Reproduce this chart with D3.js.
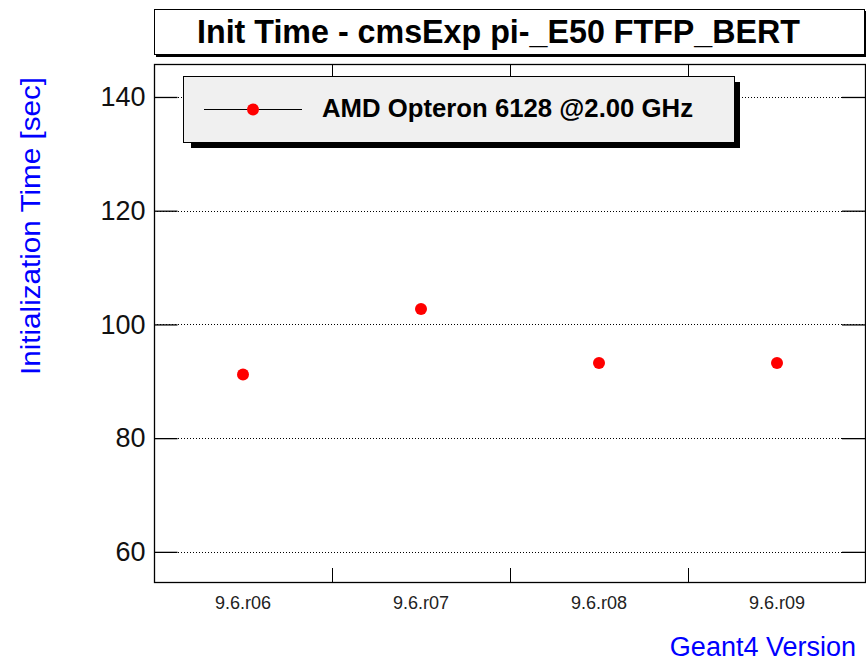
<!DOCTYPE html>
<html>
<head>
<meta charset="utf-8">
<script src="https://cdn.jsdelivr.net/npm/d3@7"></script>
<style>
  html, body { margin: 0; padding: 0; background: #fff; }
  svg { display: block; font-family: "Liberation Sans", Arial, Helvetica, sans-serif; }
</style>
</head>
<body>
<svg id="chart" width="866" height="661"></svg>
<script>
// Geant4 versions on the x axis and measured initialization times (seconds)
const versions = ["9.6.r06", "9.6.r07", "9.6.r08", "9.6.r09"];
const initTimes = [91.2, 102.7, 93.2, 93.2];
const yTicks = [60, 80, 100, 120, 140];
const seriesName = "AMD Opteron 6128 @2.00 GHz";
const chartTitle = "Init Time - cmsExp pi-_E50 FTFP_BERT";
const yTitle = "Initialization Time [sec]";
const xTitle = "Geant4 Version";

const svg = d3.select("#chart");

const frame = { left: 154, right: 865, top: 64, bottom: 582 };

const x = d3.scaleBand()
  .domain(versions)
  .range([frame.left, frame.left + 4 * 178])
  .paddingInner(0).paddingOuter(0);

const y = d3.scaleLinear()
  .domain([54.7, 145.8])
  .range([frame.bottom, frame.top]);

// Title box with drop shadow
svg.append("rect").attr("x", 156).attr("y", 11).attr("width", 712).attr("height", 46).attr("fill", "#000");
svg.append("rect").attr("x", 154.5).attr("y", 9.5).attr("width", 710).attr("height", 45)
  .attr("fill", "#fff").attr("stroke", "#000").attr("stroke-width", 1);
svg.append("text")
  .attr("x", 197).attr("y", 43)
  .attr("font-size", 34).attr("font-weight", "bold")
  .attr("textLength", 603).attr("lengthAdjust", "spacingAndGlyphs")
  .text(chartTitle);

// Dotted horizontal grid lines
const grid = svg.append("g");
grid.selectAll("line").data(yTicks).join("line")
  .attr("x1", frame.left).attr("x2", frame.right)
  .attr("y1", d => Math.round(y(d)) + 0.5).attr("y2", d => Math.round(y(d)) + 0.5)
  .attr("stroke", "#000").attr("stroke-width", 1)
  .attr("stroke-dasharray", "1,2");

// Left axis with long major ticks
const yAxis = svg.append("g")
  .attr("transform", `translate(${frame.left + 0.5},0)`)
  .call(d3.axisLeft(y).tickValues(yTicks).tickSize(-23).tickPadding(9).tickFormat(d3.format("d")));
yAxis.select(".domain").remove();
yAxis.selectAll(".tick line").attr("stroke", "#000").attr("stroke-width", 1.3);
yAxis.selectAll(".tick text")
  .attr("x", -9)
  .attr("font-size", 27).attr("fill", "#111")
  .attr("font-family", "Liberation Sans, Arial, sans-serif");

// Right-side major ticks
const yAxisR = svg.append("g")
  .attr("transform", `translate(${frame.right},0)`)
  .call(d3.axisRight(y).tickValues(yTicks).tickSize(-23).tickFormat(""));
yAxisR.select(".domain").remove();
yAxisR.selectAll(".tick line").attr("stroke", "#000").attr("stroke-width", 1.3);

// Bottom axis: labels at bin centers, ticks at bin edges
const xAxis = svg.append("g")
  .attr("transform", `translate(0,${frame.bottom})`)
  .call(d3.axisBottom(x).tickSize(0).tickPadding(14));
xAxis.select(".domain").remove();
xAxis.selectAll(".tick text")
  .attr("dy", null).attr("y", 27)
  .attr("font-size", 18).attr("fill", "#222")
  .attr("font-family", "Liberation Sans, Arial, sans-serif");

const edges = versions.slice(1).map(v => x(v));
svg.append("g").selectAll("line").data(edges).join("line")
  .attr("x1", d => Math.round(d) + 0.5).attr("x2", d => Math.round(d) + 0.5)
  .attr("y1", frame.bottom).attr("y2", frame.bottom - 14)
  .attr("stroke", "#000").attr("stroke-width", 1);
svg.append("g").selectAll("line").data(edges).join("line")
  .attr("x1", d => Math.round(d) + 0.5).attr("x2", d => Math.round(d) + 0.5)
  .attr("y1", frame.top).attr("y2", frame.top + 14)
  .attr("stroke", "#000").attr("stroke-width", 1);

// Plot frame
svg.append("rect")
  .attr("x", frame.left + 0.5).attr("y", frame.top + 0.5)
  .attr("width", frame.right - frame.left).attr("height", frame.bottom - frame.top)
  .attr("fill", "none").attr("stroke", "#000").attr("stroke-width", 1.3);

// Data points
svg.append("g").selectAll("circle").data(versions).join("circle")
  .attr("cx", d => x(d) + x.bandwidth() / 2)
  .attr("cy", (d, i) => y(initTimes[i]))
  .attr("r", 6)
  .attr("fill", "#ff0000");

// Legend box with drop shadow
const lg = svg.append("g");
lg.append("rect").attr("x", 191).attr("y", 82).attr("width", 549).attr("height", 66).attr("fill", "#000");
lg.append("rect").attr("x", 183.5).attr("y", 76.5).attr("width", 551).attr("height", 66)
  .attr("fill", "#f0f0f0").attr("stroke", "#000").attr("stroke-width", 1);
lg.append("line").attr("x1", 204).attr("x2", 302).attr("y1", 109.5).attr("y2", 109.5)
  .attr("stroke", "#000").attr("stroke-width", 1);
lg.append("circle").attr("cx", 253).attr("cy", 109.5).attr("r", 6).attr("fill", "#ff0000");
lg.append("text").attr("x", 322).attr("y", 117)
  .attr("font-size", 26).attr("font-weight", "bold")
  .attr("textLength", 371).attr("lengthAdjust", "spacingAndGlyphs")
  .text(seriesName);

// Axis titles
svg.append("text")
  .attr("transform", "translate(40,226) rotate(-90)")
  .attr("text-anchor", "middle")
  .attr("font-size", 27).attr("fill", "#0000ff")
  .attr("textLength", 298).attr("lengthAdjust", "spacingAndGlyphs")
  .text(yTitle);
svg.append("text")
  .attr("x", 856).attr("y", 656)
  .attr("text-anchor", "end")
  .attr("font-size", 27).attr("fill", "#0000ff")
  .text(xTitle);
</script>
</body>
</html>
